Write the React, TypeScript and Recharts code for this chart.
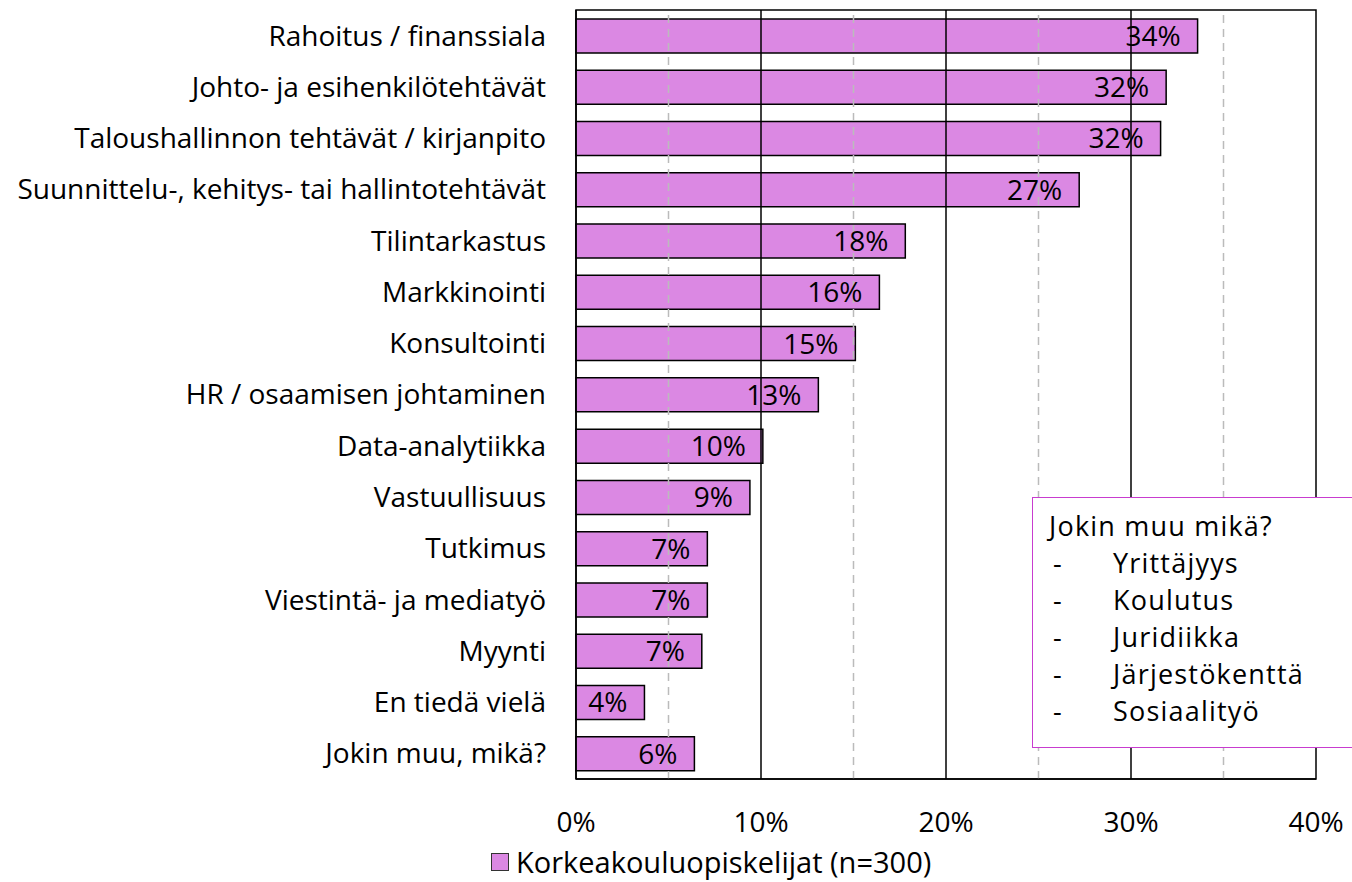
import { Bar, BarChart, LabelList, ReferenceArea, ReferenceLine, XAxis, YAxis } from "recharts";

const categories = [
  "Rahoitus / finanssiala",
  "Johto- ja esihenkilötehtävät",
  "Taloushallinnon tehtävät / kirjanpito",
  "Suunnittelu-, kehitys- tai hallintotehtävät",
  "Tilintarkastus",
  "Markkinointi",
  "Konsultointi",
  "HR / osaamisen johtaminen",
  "Data-analytiikka",
  "Vastuullisuus",
  "Tutkimus",
  "Viestintä- ja mediatyö",
  "Myynti",
  "En tiedä vielä",
  "Jokin muu, mikä?"
];
const values = [33.6, 31.9, 31.6, 27.2, 17.8, 16.4, 15.1, 13.1, 10.1, 9.4, 7.1, 7.1, 6.8, 3.7, 6.4];
const seriesName = "Korkeakouluopiskelijat (n=300)";
const xTicks = [0, 10, 20, 30, 40];
const majorLines = [10, 20, 30];
const minorLines = [5, 15, 25, 35];
const otherTitle = "Jokin muu mikä?";
const otherItems = ["Yrittäjyys", "Koulutus", "Juridiikka", "Järjestökenttä", "Sosiaalityö"];

const data = categories.map((name, i) => ({ name, value: values[i] }));

const FONT = "'Open Sans', sans-serif";
const BAR = "#db88e3";

export default function App() {
  return (
    <div style={{ position: "absolute", left: 0, top: 0, width: 1352, height: 882, overflow: "hidden", background: "#fff" }}>
      <BarChart
        width={1352}
        height={882}
        data={data}
        layout="vertical"
        margin={{ top: 10, right: 36, bottom: 43, left: 0 }}
        barSize={34}
      >
        <XAxis
          type="number"
          domain={[0, 40]}
          ticks={xTicks}
          tickFormatter={(v) => `${v}%`}
          tickLine={false}
          axisLine={{ stroke: "#000", strokeWidth: 1.5 }}
          tickMargin={27}
          tick={{ fontSize: 28, fill: "#000", fontFamily: FONT }}
          height={60}
        />
        <YAxis
          type="category"
          dataKey="name"
          width={576}
          tickLine={false}
          tickSize={6}
          tickMargin={24}
          axisLine={{ stroke: "#000", strokeWidth: 1.5 }}
          tick={{ fontSize: 28, fill: "#000", fontFamily: FONT }}
          interval={0}
        />
        {minorLines.map((x) => (
          <ReferenceLine key={`m${x}`} x={x} stroke="#bbb" strokeWidth={1.5} strokeDasharray="8 6" />
        ))}
        {majorLines.map((x) => (
          <ReferenceLine key={`M${x}`} x={x} stroke="#000" strokeWidth={1.5} />
        ))}
        <ReferenceArea x1={0} x2={40} fill="none" fillOpacity={0} stroke="#000" strokeWidth={1.5} ifOverflow="extendDomain" />
        <Bar dataKey="value" name={seriesName} fill={BAR} stroke="#000" strokeWidth={1.5} isAnimationActive={false}>
          <LabelList
            dataKey="value"
            position="insideRight"
            offset={17}
            formatter={(v: number) => `${Math.round(v)}%`}
            style={{ fontSize: 28, fill: "#000", fontFamily: FONT }}
          />
        </Bar>
      </BarChart>
      <div
        style={{
          position: "absolute",
          left: 491,
          top: 843,
          display: "flex",
          alignItems: "center",
          fontFamily: FONT,
          fontSize: 29,
          lineHeight: "38px",
          color: "#000",
          whiteSpace: "nowrap"
        }}
      >
        <span style={{ width: 16, height: 16, background: BAR, border: "1.5px solid #333", marginRight: 7 }} />
        {seriesName}
      </div>
      <div
        style={{
          position: "absolute",
          left: 1032,
          top: 497,
          width: 340,
          height: 251,
          boxSizing: "border-box",
          border: "1.5px solid #c83ccf",
          background: "#fff",
          fontFamily: FONT,
          fontSize: 27,
          lineHeight: "37px",
          letterSpacing: 1.2,
          color: "#000",
          padding: "9px 0 0 16px"
        }}
      >
        <div>{otherTitle}</div>
        {otherItems.map((t) => (
          <div key={t} style={{ display: "flex" }}>
            <span style={{ width: 60, paddingLeft: 4 }}>-</span>
            <span>{t}</span>
          </div>
        ))}
      </div>
    </div>
  );
}
